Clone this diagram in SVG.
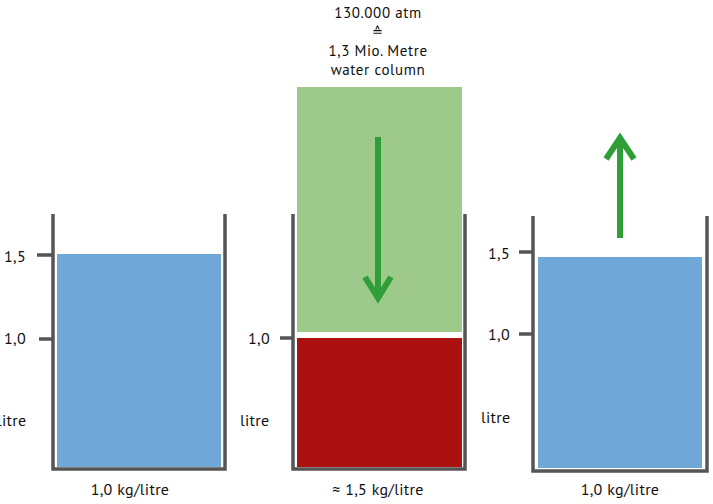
<svg xmlns="http://www.w3.org/2000/svg" width="713" height="504" viewBox="0 0 713 504">
<style>
.t{font-family:"PT Sans","Noto Sans","Open Sans",sans-serif;font-size:16px;letter-spacing:0.3px;fill:#111}
.h{font-size:15px;letter-spacing:0.6px}
.wall{fill:none;stroke:#555;stroke-width:3.5}
.tick{stroke:#555;stroke-width:3.5}
.arr{fill:none;stroke:#2f9e37;stroke-width:6}
.water{fill:#6fa8d6}
</style>
<rect width="713" height="504" fill="#fff"/>
<g id="beaker-left">
  <rect class="water" x="57" y="254" width="164" height="213"/>
  <polyline class="wall" points="53,214 53,469 225,469 225,214"/>
  <line class="tick" x1="37" y1="255" x2="53" y2="255"/>
  <line class="tick" x1="39" y1="339" x2="53" y2="339"/>
  <text class="t" x="4" y="262">1,5</text>
  <text class="t" x="4" y="344">1,0</text>
  <text class="t" x="-3" y="426">litre</text>
  <text class="t" x="130" y="495" text-anchor="middle">1,0 kg/litre</text>
</g>
<g id="beaker-middle">
  <rect x="297" y="87" width="165" height="245" fill="#9dc98a"/>
  <rect x="297" y="338" width="165" height="129" fill="#ab1111"/>
  <polyline class="wall" points="293,214 293,469 465,469 465,214"/>
  <line class="tick" x1="280" y1="338" x2="293" y2="338"/>
  <text class="t" x="248" y="344">1,0</text>
  <text class="t" x="240" y="426">litre</text>
  <text class="t" x="378" y="495" text-anchor="middle">≈ 1,5 kg/litre</text>
  <text class="t h" x="378" y="18" text-anchor="middle">130.000 atm</text>
  <text class="t" x="378" y="36" text-anchor="middle" style="font-size:13px">≙</text>
  <text class="t h" x="378" y="56" text-anchor="middle">1,3 Mio. Metre</text>
  <text class="t h" x="378" y="75" text-anchor="middle">water column</text>
</g>
<g id="beaker-right">
  <rect class="water" x="538" y="257" width="164" height="211"/>
  <polyline class="wall" points="533,216 533,471 707,471 707,216"/>
  <line class="tick" x1="519" y1="252" x2="533" y2="252"/>
  <line class="tick" x1="519" y1="334" x2="533" y2="334"/>
  <text class="t" x="488" y="259">1,5</text>
  <text class="t" x="488" y="340">1,0</text>
  <text class="t" x="481" y="423">litre</text>
  <text class="t" x="620" y="495" text-anchor="middle">1,0 kg/litre</text>
</g>
<g id="connectors">
  <line class="arr" x1="378" y1="137" x2="378" y2="298"/>
  <polyline class="arr" points="365,277 378,298 391,277"/>
  <line class="arr" x1="620" y1="238" x2="620" y2="138"/>
  <polyline class="arr" points="606,159 620,138 634,159"/>
</g>
</svg>
